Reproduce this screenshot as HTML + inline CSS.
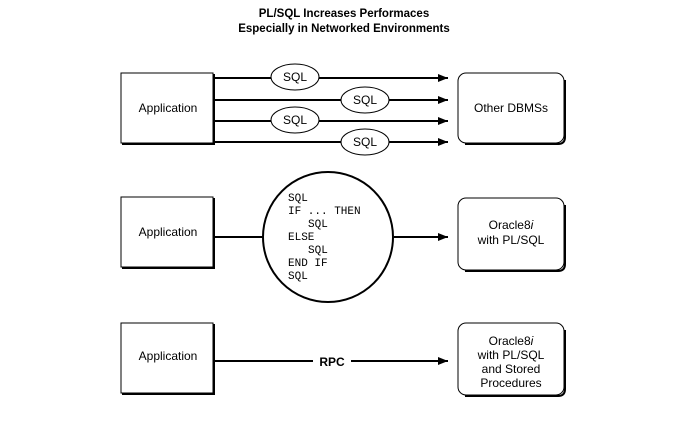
<!DOCTYPE html>
<html><head><style>
body{margin:0;background:#fff;width:688px;height:416px;overflow:hidden}
</style></head><body>
<svg width="688" height="416" viewBox="0 0 688 416" xmlns="http://www.w3.org/2000/svg" font-family="Liberation Sans, Arial, sans-serif">
<defs><marker id="a" markerWidth="10" markerHeight="8" refX="10" refY="4" orient="auto" markerUnits="userSpaceOnUse"><path d="M0,0 L10,4 L0,8 z" fill="#000"/></marker></defs>
<text x="344" y="17" text-anchor="middle" font-size="11.5" font-weight="bold">PL/SQL Increases Performaces</text>
<text x="344" y="32" text-anchor="middle" font-size="11.5" font-weight="bold">Especially in Networked Environments</text>
<g stroke="#000" fill="#fff">
<rect x="121" y="73" width="92" height="70" stroke-width="1"/>
<path d="M214,74 V144 H122" stroke-width="2" fill="none"/>
<rect x="458" y="73" width="106" height="70" rx="8" stroke-width="1"/>
<path d="M565,80 V137 Q565,144 558,144 H465" stroke-width="2" fill="none"/>
<g stroke-width="2">
<line x1="213" y1="78" x2="448" y2="78" marker-end="url(#a)"/>
<line x1="213" y1="100" x2="448" y2="100" marker-end="url(#a)"/>
<line x1="213" y1="121" x2="448" y2="121" marker-end="url(#a)"/>
<line x1="213" y1="142" x2="448" y2="142" marker-end="url(#a)"/>
</g>
<ellipse cx="295" cy="77" rx="24" ry="13"/>
<ellipse cx="365" cy="100" rx="24" ry="13"/>
<ellipse cx="295" cy="120" rx="24" ry="13"/>
<ellipse cx="365" cy="142" rx="24" ry="13"/>

<rect x="121" y="197" width="92" height="70"/>
<path d="M214,198 V268 H122" stroke-width="2" fill="none"/>
<rect x="458" y="198" width="106" height="72" rx="8"/>
<path d="M565,205 V264 Q565,271 558,271 H465" stroke-width="2" fill="none"/>
<line x1="213" y1="237" x2="263" y2="237" stroke-width="2"/>
<line x1="394" y1="237" x2="448" y2="237" stroke-width="2" marker-end="url(#a)"/>
<circle cx="328" cy="237" r="65" stroke-width="2"/>

<rect x="121" y="323" width="92" height="70"/>
<path d="M214,324 V394 H122" stroke-width="2" fill="none"/>
<rect x="458" y="323" width="106" height="72" rx="8"/>
<path d="M565,330 V389 Q565,396 558,396 H465" stroke-width="2" fill="none"/>
<line x1="213" y1="361" x2="313" y2="361" stroke-width="2"/>
<line x1="351" y1="361" x2="448" y2="361" stroke-width="2" marker-end="url(#a)"/>
</g>
<g font-size="12" text-anchor="middle">
<text x="168" y="112">Application</text>
<text x="511" y="112">Other DBMSs</text>
<text x="295" y="81">SQL</text>
<text x="365" y="104">SQL</text>
<text x="295" y="124">SQL</text>
<text x="365" y="146">SQL</text>
<text x="168" y="236">Application</text>
<text x="511" y="229">Oracle8<tspan font-style="italic">i</tspan></text>
<text x="511" y="244">with PL/SQL</text>
<text x="168" y="360">Application</text>
<text x="511" y="345">Oracle8<tspan font-style="italic">i</tspan></text>
<text x="511" y="359">with PL/SQL</text>
<text x="511" y="373">and Stored</text>
<text x="511" y="387">Procedures</text>
<text x="332" y="366" font-weight="bold">RPC</text>
</g>
<g font-family="Liberation Mono, Courier New, monospace" font-size="11">
<text x="288" y="201">SQL</text>
<text x="288" y="214">IF ... THEN</text>
<text x="308" y="227">SQL</text>
<text x="288" y="240">ELSE</text>
<text x="308" y="253">SQL</text>
<text x="288" y="266">END IF</text>
<text x="288" y="279">SQL</text>
</g>
</svg>
</body></html>
